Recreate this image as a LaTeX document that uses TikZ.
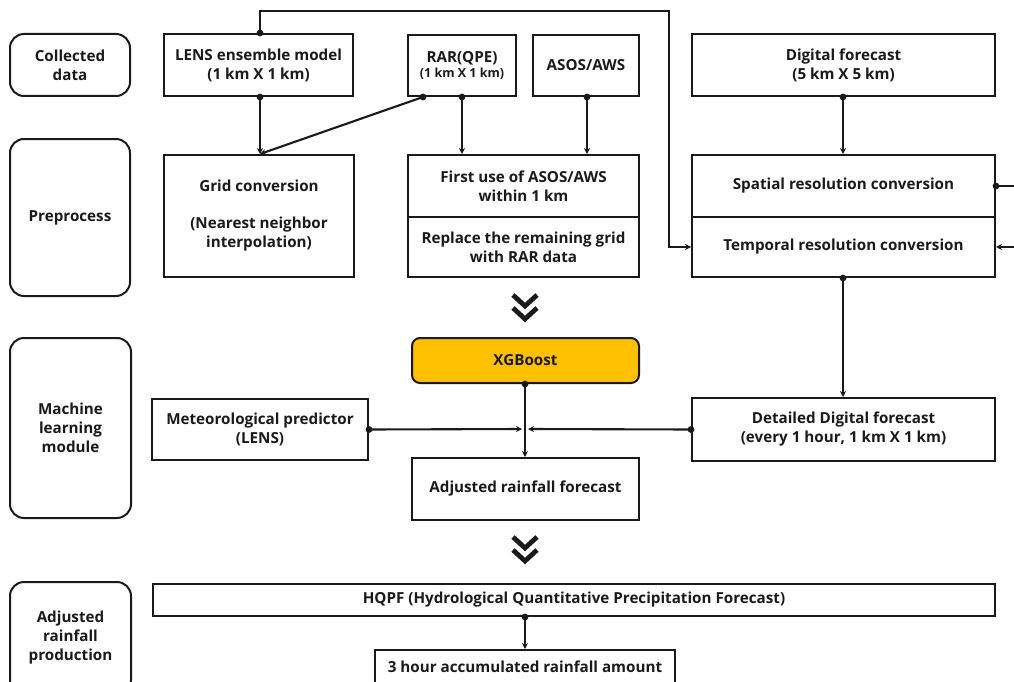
\documentclass[tikz,border=0pt]{standalone}
\usepackage{fontspec}
\setmainfont{Open Sans}
\usetikzlibrary{arrows.meta}
\definecolor{gold}{HTML}{FFC000}
\definecolor{ink}{HTML}{1A1A1A}
\begin{document}
\begin{tikzpicture}[x=1pt,y=-1pt,
  font=\fontsize{15.2}{19}\selectfont\bfseries,
  every node/.style={text=ink},
  box/.style={draw=ink, line width=2pt, inner sep=0pt, align=center},
  lbl/.style={box, rounded corners=14pt},
  conn/.style={draw=ink, line width=2.1pt, -{Stealth[length=6pt,width=6pt]}},
  plain/.style={draw=ink, line width=2.1pt},
  chev/.style={draw=ink, line width=4.8pt, miter limit=10}]
\useasboundingbox (0,0) rectangle (1014,682);
\fill[white] (0,0) rectangle (1014,682);
% left labels
\node[lbl, minimum width=120pt, minimum height=62pt] (cd) at (70,65) {Collected\\data};
\node[lbl, minimum width=120pt, minimum height=157pt] (pre) at (70,217.5) {Preprocess};
\node[lbl, minimum width=121pt, minimum height=180pt] (ml) at (70.5,428) {Machine\\learning\\module};
\node[lbl, minimum width=121pt, minimum height=112pt] (arp) at (70.5,638) {Adjusted\\rainfall\\production};
% collected data row
\node[box, minimum width=189pt, minimum height=62pt] (lens) at (258.5,65) {LENS ensemble model\\(1 km X 1 km)};
\node[box, minimum width=108pt, minimum height=61pt] (rar) at (462,65.5) {RAR(QPE)\\[-4pt]{\fontsize{12.5}{14}\selectfont (1 km X 1 km)}};
\node[box, minimum width=106pt, minimum height=61pt] (asos) at (586,65.5) {ASOS/AWS};
\node[box, minimum width=303pt, minimum height=62pt] (dig) at (843.5,65) {Digital forecast\\(5 km X 5 km)};
% preprocess row
\node[box, minimum width=190pt, minimum height=122pt] (grid) at (259,216) {Grid conversion\\[18pt](Nearest neighbor\\interpolation)};
\node[box, minimum width=231pt, minimum height=62pt] (first) at (523.5,186) {First use of ASOS/AWS\\within 1 km};
\node[box, minimum width=231pt, minimum height=60pt] (repl) at (523.5,247) {Replace the remaining grid\\with RAR data};
\node[box, minimum width=303pt, minimum height=62pt] (spat) at (843.5,186) {Spatial resolution conversion};
\node[box, minimum width=303pt, minimum height=60pt] (temp) at (843.5,247) {Temporal resolution conversion};
% machine learning row
\node[box, fill=gold, rounded corners=8pt, minimum width=227pt, minimum height=45pt] (xgb) at (525.5,360.5) {XGBoost};
\node[box, minimum width=216pt, minimum height=61pt] (met) at (260,429.5) {Meteorological predictor\\(LENS)};
\node[box, minimum width=303pt, minimum height=63pt] (det) at (843.5,429.5) {Detailed Digital forecast\\(every 1 hour, 1 km X 1 km)};
\node[box, minimum width=227pt, minimum height=62pt] (adj) at (525.5,489) {Adjusted rainfall forecast};
% bottom row
\node[box, minimum width=842pt, minimum height=32pt] (hqpf) at (574,600) {HQPF (Hydrological Quantitative Precipitation Forecast)};
\node[box, minimum width=300pt, minimum height=34pt, anchor=north] (three) at (525,649) {3 hour accumulated rainfall amount};
% named points
\coordinate (lensT) at (260,0 |- lens.north);
\coordinate (lensB) at (260,0 |- lens.south);
\coordinate (gridT) at (260,0 |- grid.north);
\coordinate (rarL) at (423,0 |- rar.south);
\coordinate (rarR) at (462,0 |- rar.south);
\coordinate (firstR) at (462,0 |- first.north);
\coordinate (asosB) at (587,0 |- asos.south);
\coordinate (firstA) at (587,0 |- first.north);
\coordinate (digB) at (843,0 |- dig.south);
\coordinate (spatT) at (843,0 |- spat.north);
\coordinate (tempB) at (843,0 |- temp.south);
\coordinate (detT) at (843,0 |- det.north);
\coordinate (tempW) at (temp.west);
\coordinate (spatE) at (spat.east);
\coordinate (tempE) at (temp.east);
\coordinate (outR1) at (1016,186);
\coordinate (outR2) at (1016,247);
\coordinate (top1) at (260,11);
\coordinate (top2) at (669,11);
\coordinate (joinL) at (522,429);
\coordinate (joinR) at (528,429);
\coordinate (xgbB) at (525,0 |- xgb.south);
\coordinate (adjT) at (525,0 |- adj.north);
\coordinate (hqpfB) at (525,0 |- hqpf.south);
% connectors
\draw[conn] (lensT) -- (top1) -- (top2) |- (tempW);
\draw[conn] (lensB) -- (gridT);
\draw[conn] (rarL) -- (gridT);
\draw[conn] (rarR) -- (firstR);
\draw[conn] (asosB) -- (firstA);
\draw[conn] (digB) -- (spatT);
\draw[plain] (spatE) -- (outR1);
\draw[conn] (outR2) -- (tempE);
\draw[conn] (tempB) -- (detT);
\draw[conn] (met.east) -- (joinL);
\draw[conn] (det.west) -- (joinR);
\draw[conn] (xgbB) -- (adjT);
\draw[conn] (hqpfB) -- (three.north);
% dots
\foreach \p in {lensT,lensB,rarL,rarR,asosB,digB,spatE,tempB,xgbB,hqpfB}
  \fill[ink] (\p) circle (3.4pt);
\fill[ink] (met.east) circle (3.4pt);
\fill[ink] (det.west) circle (3.4pt);
% chevrons
\draw[chev] (513,295) -- (525,306) -- (537,295);
\draw[chev] (513,308) -- (525,319) -- (537,308);
\draw[chev] (513,537) -- (525,548) -- (537,537);
\draw[chev] (513,550) -- (525,561) -- (537,550);
\end{tikzpicture}
\end{document}
